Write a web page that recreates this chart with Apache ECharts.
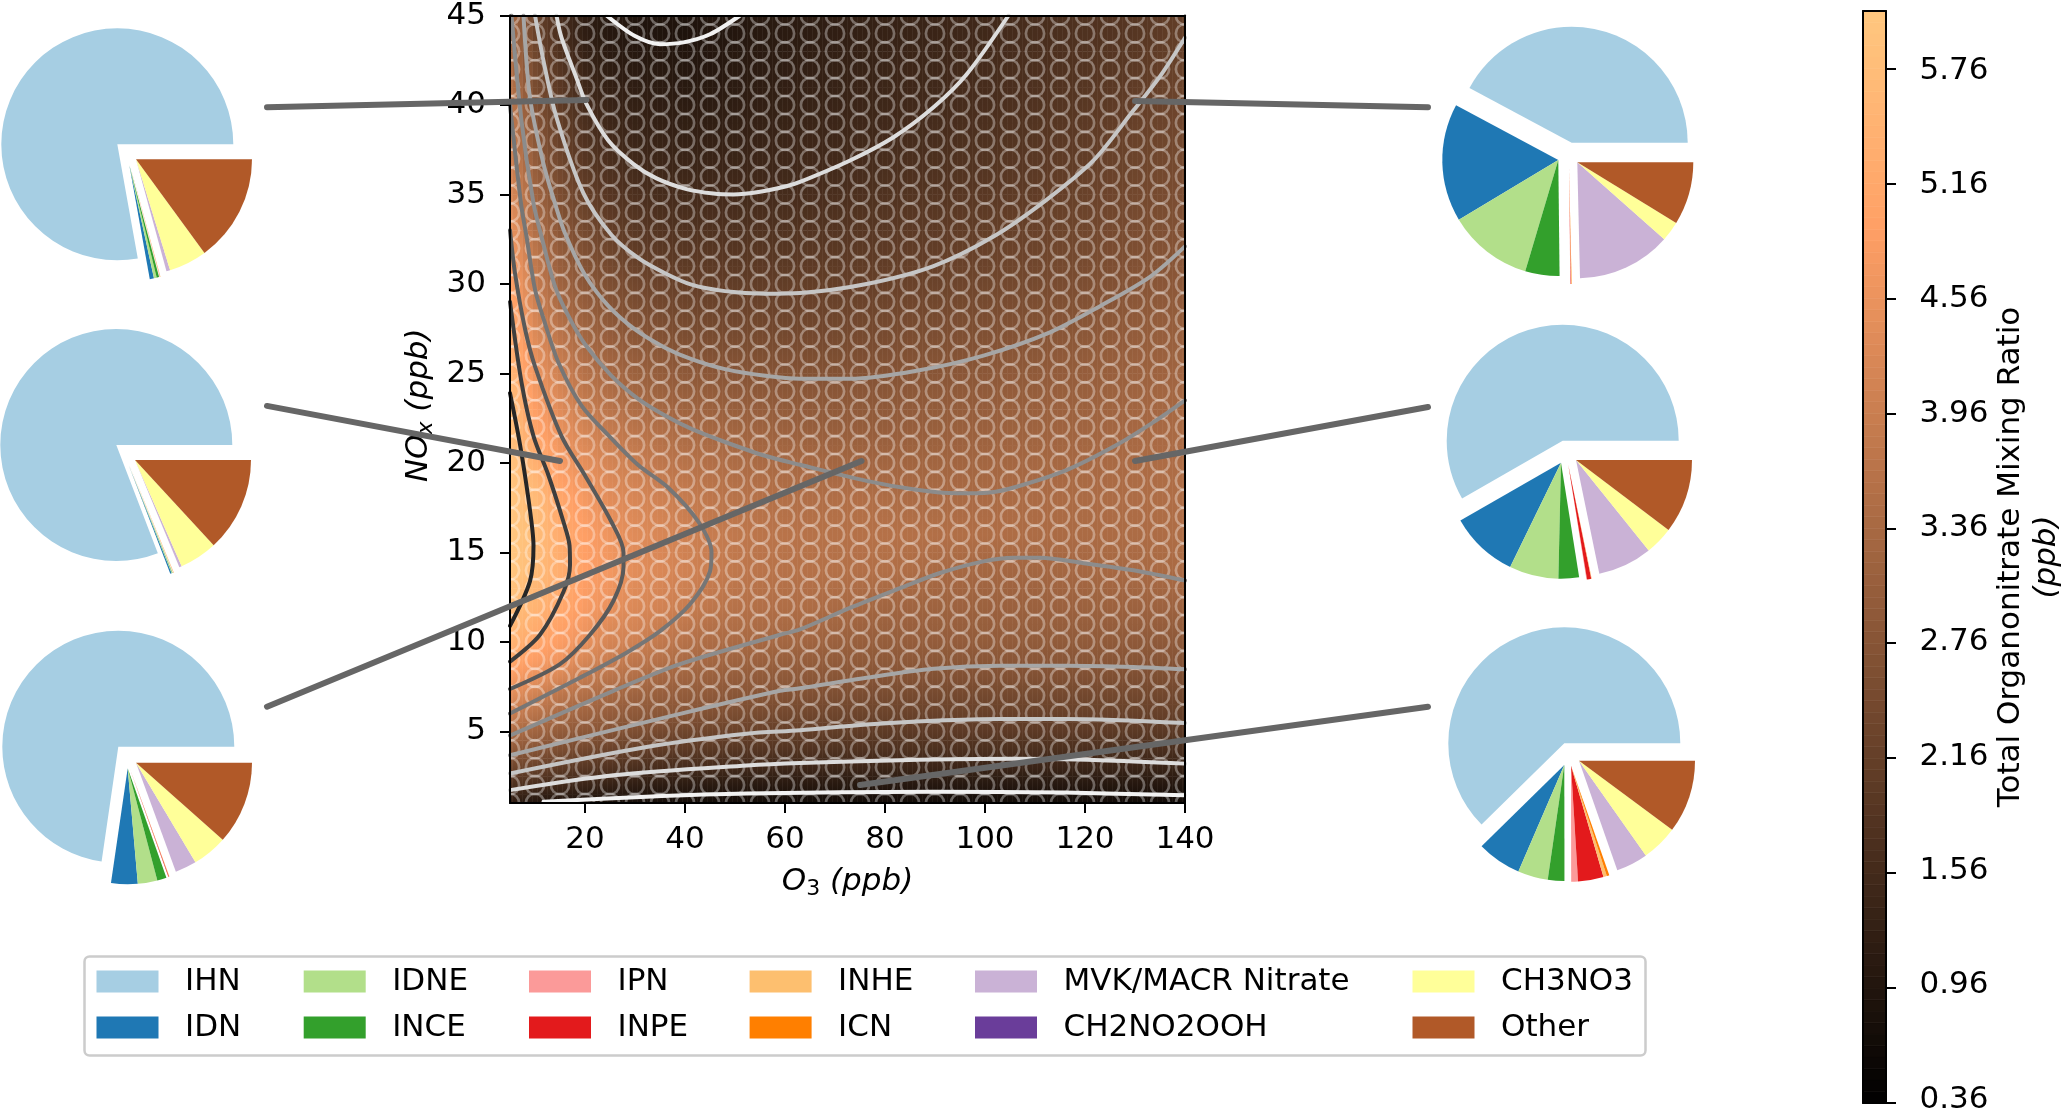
<!DOCTYPE html>
<html>
<head>
<meta charset="utf-8">
<title>Organonitrate mixing ratio</title>
<style>html,body{margin:0;padding:0;background:#fff}#c{width:2066px;height:1115px}</style>
<script src="https://cdn.jsdelivr.net/npm/echarts@6/dist/echarts.min.js"></script>
</head>
<body>
<div id="c"></div>
<script>
// ---------- data ----------
const species = ['IHN','IDN','IDNE','INCE','IPN','INPE','INHE','ICN','MVK/MACR Nitrate','CH2NO2OOH','CH3NO3','Other'];
const speciesColors = ['#a6cee3','#1f78b4','#b2df8a','#33a02c','#fb9a99','#e31a1c','#fdbf6f','#ff7f00','#cab2d6','#6a3d9a','#ffff99','#b15928'];
const pieTopLeft  = [280.1,2.1,1.4,1.2,0.05,0.05,0.2,0.05,1.8,0.05,19.1,53.8];
const pieMidLeft  = [291,0.7,0.3,0.2,0.02,0.02,0.2,0.06,1.2,0.02,19,47.3];
const pieLowLeft  = [261.8,13.3,9.8,4.7,0.1,0.3,0.1,0.1,10.7,0.02,17.6,41.6];
const pieTopRight = [151.9,59.2,42.5,17.2,0.2,0.2,0.1,0.2,47.2,0.02,10,31.5];
const pieMidRight = [209.9,34.2,24.7,10.3,0.3,2.1,0.1,0.1,27.2,0.02,14.1,37.1];
const pieLowRight = [224.5,22.2,15.1,8.3,3.4,12.8,1.7,1.3,15.8,0.02,18.3,36.6];

const xTicks = [20,40,60,80,100,120,140];
const yTicks = [5,10,15,20,25,30,35,40,45];
const barTicks = [0.36,0.96,1.56,2.16,2.76,3.36,3.96,4.56,5.16,5.76];
const barBands = [0.36,0.42,0.48,0.54,0.60,0.66,0.72,0.78,0.84,0.90,0.96,1.02,1.08,1.14,1.20,1.26,1.32,1.38,1.44,1.50,1.56,1.62,1.68,1.74,1.80,1.86,1.92,1.98,2.04,2.10,2.16,2.22,2.28,2.34,2.40,2.46,2.52,2.58,2.64,2.70,2.76,2.82,2.88,2.94,3.00,3.06,3.12,3.18,3.24,3.30,3.36,3.42,3.48,3.54,3.60,3.66,3.72,3.78,3.84,3.90,3.96,4.02,4.08,4.14,4.20,4.26,4.32,4.38,4.44,4.50,4.56,4.62,4.68,4.74,4.80,4.86,4.92,4.98,5.04,5.10,5.16,5.22,5.28,5.34,5.40,5.46,5.52,5.58,5.64,5.70,5.76,5.82,5.88,5.94,6.00,6.06];

const o3Columns = [5,10,15,20,25,30,35,40,45,50,55,60,65,70,75,80,85,90,95,100,105,110,115,120,125,130,135,140];
const noxRows = [1,2,3,4,5,6,7,8,9,10,12,14,16,18,20,22,24,26,28,30,32,34,36,38,40,42,44];
const hatchY = [1,2,3,4,5,6,7,8,9,10,11,12,13,14,15,16,17,18,19,20,21,22,23,24,25,26,27,28,29,30,31,32,33,34,35,36,37,38,39,40,41,42,43,44,45];
// total organonitrate (ppb): one list per O3 column, bottom row first
const ratioByColumn = [
[1.18,1.75,2.37,2.95,3.5,3.96,4.4,4.8,5.2,5.5,5.85,6.03,6.05,6.0,5.95,5.85,5.75,5.5,5.28,5.0,4.75,4.45,4.2,3.96,3.8,3.6,3.42],
[.97,1.62,2.22,2.76,3.22,3.65,4.05,4.5,4.85,5.13,5.5,5.72,5.78,5.72,5.4,5.05,4.75,4.47,4.2,3.92,3.7,3.36,3.1,2.85,2.6,2.45,2.25],
[.9,1.5,2.03,2.57,2.97,3.36,3.7,4.2,4.62,4.85,5.2,5.33,5.27,5.14,4.78,4.5,4.2,3.88,3.55,3.2,2.97,2.7,2.45,2.2,2.05,1.88,1.65],
[.85,1.4,1.92,2.4,2.87,3.2,3.5,3.85,4.2,4.53,4.8,4.93,4.9,4.73,4.45,4.1,3.75,3.45,3.15,2.85,2.6,2.3,2.03,1.8,1.6,1.4,1.2],
[.8,1.3,1.8,2.25,2.72,3.0,3.3,3.65,3.96,4.15,4.52,4.7,4.6,4.38,4.13,3.85,3.5,3.2,2.87,2.6,2.3,2.0,1.78,1.55,1.36,1.18,1.03],
[.75,1.2,1.7,2.15,2.6,2.9,3.17,3.5,3.75,4.05,4.27,4.4,4.35,4.2,3.98,3.65,3.3,3.0,2.68,2.4,2.07,1.85,1.62,1.42,1.28,1.12,.95],
[.72,1.15,1.63,2.05,2.45,2.83,3.05,3.28,3.6,3.82,4.12,4.25,4.22,4.05,3.76,3.5,3.15,2.87,2.55,2.25,1.96,1.72,1.52,1.35,1.2,1.07,.92],
[.7,1.12,1.6,2.0,2.35,2.75,2.97,3.2,3.4,3.6,3.95,4.08,4.05,3.9,3.64,3.37,3.05,2.75,2.45,2.16,1.92,1.68,1.48,1.3,1.17,1.03,.9],
[.68,1.1,1.58,1.95,2.3,2.65,2.9,3.1,3.3,3.45,3.75,3.96,3.92,3.75,3.55,3.3,3.0,2.68,2.38,2.12,1.9,1.66,1.47,1.3,1.15,1.03,.96],
[.68,1.08,1.53,1.9,2.25,2.55,2.8,3.0,3.2,3.4,3.62,3.78,3.8,3.65,3.45,3.22,2.92,2.65,2.37,2.1,1.88,1.66,1.48,1.33,1.2,1.1,1.0],
[.68,1.06,1.5,1.87,2.2,2.48,2.75,2.93,3.13,3.33,3.55,3.68,3.7,3.6,3.4,3.17,2.88,2.62,2.35,2.1,1.9,1.68,1.5,1.37,1.25,1.15,1.07],
[.68,1.05,1.47,1.83,2.15,2.42,2.68,2.9,3.07,3.28,3.5,3.62,3.66,3.55,3.36,3.12,2.85,2.6,2.33,2.12,1.9,1.7,1.52,1.42,1.3,1.2,1.12],
[.68,1.05,1.45,1.8,2.12,2.37,2.63,2.85,3.02,3.22,3.47,3.6,3.62,3.5,3.34,3.05,2.83,2.58,2.33,2.13,1.93,1.73,1.56,1.45,1.35,1.25,1.17],
[.68,1.05,1.44,1.78,2.1,2.33,2.58,2.8,2.97,3.13,3.4,3.57,3.6,3.52,3.28,3.05,2.83,2.58,2.35,2.13,1.95,1.77,1.6,1.48,1.38,1.3,1.22],
[.68,1.04,1.43,1.77,2.06,2.3,2.53,2.77,2.93,3.07,3.33,3.55,3.6,3.52,3.27,3.03,2.82,2.6,2.38,2.16,1.98,1.82,1.65,1.52,1.43,1.35,1.27],
[.68,1.03,1.41,1.75,2.03,2.27,2.5,2.73,2.9,3.03,3.25,3.53,3.6,3.48,3.25,3.03,2.83,2.62,2.42,2.2,2.03,1.87,1.72,1.56,1.47,1.4,1.32],
[.68,1.03,1.4,1.73,2.0,2.25,2.47,2.7,2.88,3.02,3.22,3.47,3.58,3.42,3.25,3.05,2.87,2.68,2.47,2.25,2.07,1.92,1.77,1.62,1.52,1.45,1.37],
[.67,1.03,1.4,1.72,2.0,2.23,2.45,2.67,2.85,3.0,3.2,3.38,3.55,3.4,3.25,3.07,2.9,2.7,2.5,2.27,2.1,1.95,1.8,1.66,1.55,1.47,1.4],
[.67,1.02,1.39,1.71,2.0,2.22,2.43,2.65,2.84,3.0,3.17,3.33,3.53,3.39,3.25,3.1,2.93,2.73,2.55,2.33,2.15,2.0,1.85,1.72,1.62,1.55,1.47],
[.67,1.02,1.39,1.7,2.0,2.2,2.42,2.65,2.83,2.98,3.15,3.3,3.5,3.4,3.28,3.12,2.95,2.76,2.57,2.38,2.2,2.04,1.9,1.77,1.66,1.6,1.5],
[.67,1.02,1.39,1.7,2.0,2.2,2.42,2.64,2.82,2.96,3.13,3.28,3.48,3.42,3.3,3.15,3.0,2.82,2.62,2.42,2.25,2.1,1.95,1.82,1.73,1.65,1.58],
[.67,1.02,1.39,1.7,2.0,2.2,2.42,2.64,2.82,2.96,3.13,3.28,3.45,3.42,3.32,3.18,3.03,2.85,2.67,2.47,2.3,2.16,2.02,1.9,1.8,1.72,1.65],
[.67,1.02,1.39,1.7,2.0,2.2,2.42,2.64,2.82,2.96,3.14,3.3,3.42,3.42,3.33,3.2,3.07,2.92,2.73,2.53,2.37,2.22,2.1,1.97,1.87,1.78,1.7],
[.66,1.02,1.39,1.69,2.0,2.2,2.4,2.63,2.81,2.95,3.15,3.32,3.42,3.42,3.36,3.23,3.1,2.97,2.78,2.6,2.44,2.3,2.18,2.05,1.95,1.85,1.78],
[.66,1.01,1.38,1.68,2.0,2.2,2.4,2.62,2.8,2.93,3.16,3.34,3.43,3.44,3.38,3.27,3.15,3.02,2.85,2.67,2.52,2.38,2.26,2.16,2.03,1.92,1.83],
[.65,1.0,1.37,1.67,1.98,2.2,2.4,2.6,2.78,2.91,3.17,3.36,3.44,3.46,3.42,3.32,3.2,3.08,2.93,2.76,2.6,2.47,2.35,2.25,2.14,2.0,1.9],
[.65,1.0,1.36,1.66,1.97,2.18,2.38,2.58,2.76,2.9,3.17,3.38,3.46,3.48,3.45,3.35,3.25,3.12,2.98,2.82,2.68,2.55,2.44,2.33,2.23,2.14,2.0],
[.64,.99,1.34,1.65,1.96,2.16,2.36,2.56,2.74,2.88,3.18,3.4,3.48,3.5,3.47,3.4,3.3,3.17,3.03,2.88,2.77,2.62,2.52,2.43,2.33,2.25,2.17]
];

// contour lines, as [O3, NOx] pairs
const c096a = [[24.3,45],[30,43.85],[35,43.4],[39.7,43.5],[45,43.95],[51,45]];
const c096b = [[11.7,1.07],[32.3,1.35],[52.3,1.53],[89.7,1.63],[116,1.58],[140,1.43]];
const c156a = [[14.3,45],[15.3,43.76],[18.3,41.5],[20.3,40.05],[24.7,38],[29.7,36.7],[34.3,35.9],[40.3,35.3],[45.7,35.05],[49.7,35],[55,35.15],[60.3,35.46],[63,35.7],[73,36.9],[81.7,38.2],[89.7,39.87],[96.3,41.7],[104.7,45]];
const c156b = [[5,1.72],[25.7,2.55],[52.3,3.1],[63,3.24],[83,3.39],[106,3.47],[123,3.39],[140,3.2]];
const c216a = [[10,45],[11.7,42.46],[14.3,39.3],[19.7,35.06],[25.3,32.74],[30.7,31.44],[36,30.6],[41.3,29.96],[48,29.6],[56,29.46],[63,29.5],[76.3,30],[89.7,31],[101.7,32.65],[112.3,34.7],[121.7,36.9],[129.7,39.7],[135,41.6],[140,43.76]];
const c216b = [[5,2.65],[32.3,4.13],[52.3,4.87],[63,5.06],[76.3,5.39],[89.7,5.6],[103,5.7],[116,5.7],[140,5.47]];
const c276a = [[7.7,45],[9,40.4],[11.7,36.7],[14,34.5],[16,32.83],[20,30.5],[24.7,28.76],[30,27.46],[36,26.44],[41.3,25.8],[48,25.24],[56,24.87],[63,24.7],[73,24.7],[86.3,25.15],[99.7,26],[113,27.3],[123,28.76],[133,30.4],[140,32.1]];
const c276b = [[5,3.67],[39,5.98],[59,7.27],[63,7.41],[76.3,8],[89.7,8.5],[103,8.67],[116.3,8.67],[129.7,8.6],[140,8.47]];
const c336a = [[5.3,45],[7.3,39.1],[9.7,34.5],[11.3,32.65],[14,29.87],[16.7,28.2],[20,26.63],[25.3,24.87],[30.7,23.57],[36,22.65],[41.3,21.9],[48,21.17],[56,20.4],[63,19.9],[76.3,19],[86.3,18.5],[94.3,18.3],[101,18.35],[106.3,18.67],[116.3,19.6],[126.3,21],[133.7,22.28],[140,23.5]];
const c336b = [[5,4.77],[25.7,7.27],[39,8.76],[59,10.4],[63,10.7],[73,11.9],[83,13],[91,13.85],[99.7,14.5],[105.7,14.7],[111,14.7],[119.7,14.4],[129.7,14],[140,13.43]];
const c396 = [[5,40],[7.2,34.5],[8.3,32.65],[10,29.7],[12,27.8],[14.7,25.6],[19.3,23.2],[24.7,21.54],[30.7,19.87],[36.7,18.6],[42.7,16.7],[45.3,15],[45,13.94],[41,12.1],[35,10.6],[28.3,9.4],[19,8],[5,6]];
const c456 = [[5,33],[6,30.6],[8,27.5],[10,25.4],[15.3,21.5],[20,19.3],[25.3,16.7],[27.7,15],[27.7,14.2],[25.7,12.3],[21,10.4],[15,8.76],[5,7.37]];
const c516 = [[5,29],[7.3,24.5],[9.7,21.5],[12.7,19.3],[15.7,16.7],[16.9,15.4],[17,14.3],[15.7,12.8],[11,10.4],[5,8.9]];
const c576 = [[5,23.9],[6.7,21.5],[8,19.3],[9.3,16.7],[9.7,15.4],[9,13.4],[5,10.9]];

// leader lines from each pie to its point on the map
const leaderTopLeft  = [[-43.6,39.65],[20.3,40.06]];
const leaderMidLeft  = [[-43.6,23.06],[15,20]];
const leaderLowLeft  = [[-43.6,6.35],[75.3,20]];
const leaderTopRight = [[188.6,39.65],[130,40]];
const leaderMidRight = [[188.6,23],[130,20]];
const leaderLowRight = [[188.6,6.35],[75,2]];

// ---------- layout and styles ----------
const FONT = 'DejaVu Sans';
const LABEL = 31;
const plot = {left:510, top:11, width:675, height:792};
const wide = {left:265, top:11, width:1165, height:792}; // same scale as the map, extended to the pies
const bar = {left:1863, top:11, width:34, height:1092};
const barText = {left:1863, top:13.6, width:34, height:1092}; // colour bar tick text sits slightly below its ticks
const pieR = 116;
const pieSlots = [
 {v:pieTopLeft,  c:[[117.3,144.3],[129.3,165],[130,165],[136,159.3]]},
 {v:pieMidLeft,  c:[[116.3,445],[128.8,465.5],[129.5,465.5],[135,460]]},
 {v:pieLowLeft,  c:[[118.3,746.7],[127.7,768.3],[129.5,767.5],[136,762.7]]},
 {v:pieTopRight, c:[[1571.7,142.7],[1558.3,160],[1569,168],[1577.3,162.3]]},
 {v:pieMidRight, c:[[1562.7,440.7],[1561,462.7],[1568.3,465],[1576,460]]},
 {v:pieLowRight, c:[[1564.3,743.3],[1564.3,765],[1571,765.7],[1579,760.7]]}
];
const groups = [[0,1],[1,4],[4,8],[8,12]];

function sum(a){return a.reduce((s,x)=>s+x,0);}
function pieSeries(slot){
  return groups.map((g,i)=>{
    const before = sum(slot.v.slice(0,g[0]));
    const after = sum(slot.v.slice(g[1]));
    const blank = {color:'rgba(0,0,0,0)'};
    const data = [{name:'-a',value:before,itemStyle:blank}];
    for(let k=g[0];k<g[1];k++){data.push({name:species[k],value:slot.v[k],itemStyle:{color:speciesColors[k]}});}
    data.push({name:'-b',value:after,itemStyle:blank});
    return {type:'pie',silent:true,center:slot.c[i],radius:pieR,startAngle:0,clockwise:false,
      label:{show:false},labelLine:{show:false},emphasis:{disabled:true},animation:false,z:3,data};
  });
}

// copper colour scale used by the map and its colour bar
function copper(v){
  const t=Math.max(0,Math.min(1,(v-0.36)/5.7));
  return 'rgb('+Math.round(255*Math.min(1,1.25*t))+','+Math.round(255*0.7812*t)+','+Math.round(255*0.4975*t)+')';
}
// shading of the table between its cells, only for painting
function bracket(list,v){
  let i=0; while(i<list.length-2 && v>list[i+1]) i++;
  const f=Math.max(0,Math.min(1,(v-list[i])/(list[i+1]-list[i])));
  return [i,f];
}
function shadeAt(x,y){
  const a=bracket(o3Columns,x), b=bracket(noxRows,y);
  const c0=ratioByColumn[a[0]], c1=ratioByColumn[a[0]+1];
  const v0=c0[b[0]]*(1-b[1])+c0[b[0]+1]*b[1];
  const v1=c1[b[0]]*(1-b[1])+c1[b[0]+1]*b[1];
  return v0*(1-a[1])+v1*a[1];
}
const STRIPS=5;
function renderCell(params,api){
  const x=api.value(0), y=api.value(1), lo=api.value(3), hi=api.value(4);
  const kids=[];
  for(let s=0;s<STRIPS;s++){
    const xa=Math.max(5,x-2.5+s*5/STRIPS), xb=Math.min(140,x-2.5+(s+1)*5/STRIPS);
    if(xb<=xa) continue;
    const xm=(xa+xb)/2;
    const p=api.coord([xa,hi]), q=api.coord([xb,lo]);
    kids.push({type:'rect',shape:{x:p[0],y:p[1],width:q[0]-p[0]+0.4,height:q[1]-p[1]+0.4},
      style:{fill:new echarts.graphic.LinearGradient(0,0,0,1,[
        {offset:0,color:copper(shadeAt(xm,hi))},
        {offset:(hi-y)/(hi-lo),color:copper(shadeAt(xm,y))},
        {offset:1,color:copper(shadeAt(xm,lo))}])}});
  }
  return {type:'group',children:kids};
}
function renderBand(params,api){
  const a=api.coord([0,api.value(4)]), b=api.coord([1,api.value(3)]);
  const col=copper(api.value(2));
  return {type:'rect',shape:{x:a[0],y:a[1],width:b[0]-a[0],height:b[1]-a[1]},style:{fill:col,stroke:col,lineWidth:0.6}};
}

const cellData=[];
ratioByColumn.forEach((col,i)=>col.forEach((v,j)=>{
  const lo=j===0?1:(noxRows[j-1]+noxRows[j])/2;
  const hi=j===noxRows.length-1?45:(noxRows[j]+noxRows[j+1])/2;
  cellData.push([o3Columns[i],noxRows[j],v,lo,hi]);
}));
const bandData=[];
for(let i=0;i<barBands.length-1;i++){bandData.push([0,barBands[i],(barBands[i]+barBands[i+1])/2,barBands[i],barBands[i+1]]);}
const hatchData=[];
o3Columns.forEach(x=>hatchY.forEach(y=>hatchData.push([x,y])));

function contour(data,color){
  return {type:'line',data,xAxisIndex:0,yAxisIndex:0,showSymbol:false,symbol:'none',smooth:0.3,clip:true,silent:true,z:5,
    lineStyle:{color,width:4,cap:'round',join:'round'}};
}
function leader(data){
  return {type:'line',data,xAxisIndex:4,yAxisIndex:4,showSymbol:false,symbol:'none',clip:false,silent:true,z:20,
    lineStyle:{color:'#666666',width:6,cap:'round'}};
}

const series=[
 {type:'custom',renderItem:renderCell,data:cellData,xAxisIndex:0,yAxisIndex:0,silent:true,z:1,encode:{x:0,y:1},dimensions:['x','y','v','lo','hi']},
 {type:'custom',renderItem:renderBand,data:bandData,xAxisIndex:2,yAxisIndex:2,silent:true,z:1,encode:{x:0,y:1},dimensions:['x','y','v','lo','hi']},
 {type:'scatter',data:hatchData,xAxisIndex:0,yAxisIndex:0,silent:true,clip:true,z:2,symbol:'circle',symbolSize:18.4,
  itemStyle:{color:'rgba(0,0,0,0)',borderColor:'rgba(255,255,255,0.42)',borderWidth:2.6},emphasis:{disabled:true}},
 contour(c096a,'#f2f2f2'),contour(c096b,'#f2f2f2'),
 contour(c156a,'#dddddd'),contour(c156b,'#dddddd'),
 contour(c216a,'#c6c6c6'),contour(c216b,'#c6c6c6'),
 contour(c276a,'#a6a6a6'),contour(c276b,'#a6a6a6'),
 contour(c336a,'#8c8c8c'),contour(c336b,'#8c8c8c'),
 contour(c396,'#767676'),contour(c456,'#5a5a5a'),contour(c516,'#3e3e3e'),contour(c576,'#262626'),
 leader(leaderTopLeft),leader(leaderMidLeft),leader(leaderLowLeft),
 leader(leaderTopRight),leader(leaderMidRight),leader(leaderLowRight)
];
pieSlots.forEach(s=>series.push(...pieSeries(s)));

const spine={show:true,onZero:false,lineStyle:{color:'#000',width:2}};
const hidden={axisTick:{show:false},axisLabel:{show:false},splitLine:{show:false}};
const labelStyle={color:'#000',fontFamily:FONT,fontSize:LABEL};
const italic={fontFamily:FONT,fontSize:LABEL,fontStyle:'italic',color:'#000'};
const subItalic={fontFamily:FONT,fontSize:22,fontStyle:'italic',color:'#000',verticalAlign:'bottom',padding:[14,0,0,0]};
const subRoman={fontFamily:FONT,fontSize:22,color:'#000',verticalAlign:'bottom',padding:[14,0,0,0]};

const legendCols=[
 {left:96.5,names:[species[0],species[1]]},
 {left:303.7,names:[species[2],species[3]]},
 {left:529,names:[species[4],species[5]]},
 {left:749.6,names:[species[6],species[7]]},
 {left:975,names:[species[8],species[9]]},
 {left:1412.5,names:[species[10],species[11]]}
];

const option={
 animation:false,
 backgroundColor:'#fff',
 textStyle:{fontFamily:FONT},
 grid:[
  {left:plot.left,top:plot.top,width:plot.width,height:plot.height,containLabel:false},
  {left:bar.left,top:bar.top,width:bar.width,height:bar.height,containLabel:false},
  {left:wide.left,top:wide.top,width:wide.width,height:wide.height,containLabel:false},
  {left:barText.left,top:barText.top,width:barText.width,height:barText.height,containLabel:false}
 ],
 xAxis:[
  {type:'value',gridIndex:0,min:5,max:140,position:'bottom',z:8,axisLine:spine,splitLine:{show:false},
   axisTick:{show:true,length:10,lineStyle:{color:'#000',width:2},customValues:xTicks},
   axisLabel:{...labelStyle,margin:21,customValues:xTicks},
   name:'{o|O}{s|3}{o| (ppb)}',nameLocation:'middle',nameGap:61,nameTextStyle:{rich:{o:italic,s:subRoman}}},
  {type:'value',gridIndex:0,min:5,max:140,position:'top',z:8,axisLine:spine,...hidden},
  {type:'value',gridIndex:1,min:0,max:1,position:'bottom',z:8,axisLine:spine,...hidden},
  {type:'value',gridIndex:1,min:0,max:1,position:'top',z:8,axisLine:spine,...hidden},
  {type:'value',gridIndex:2,min:-44,max:189,show:false},
  {type:'value',gridIndex:3,min:0,max:1,show:false}
 ],
 yAxis:[
  {type:'value',gridIndex:0,min:1,max:45,position:'left',z:8,axisLine:spine,splitLine:{show:false},
   axisTick:{show:true,length:10,lineStyle:{color:'#000',width:2},customValues:yTicks},
   axisLabel:{...labelStyle,margin:24,customValues:yTicks,showMinLabel:true,showMaxLabel:true},
   name:'{o|NO}{s|x}{o| (ppb)}',nameLocation:'middle',nameGap:73,nameRotate:90,nameTextStyle:{padding:[0,0,0,8],rich:{o:italic,s:subItalic}}},
  {type:'value',gridIndex:0,min:1,max:45,position:'right',z:8,axisLine:spine,...hidden},
  {type:'value',gridIndex:1,min:0.36,max:6.06,position:'right',z:8,axisLine:spine,splitLine:{show:false},
   axisTick:{show:true,length:10,lineStyle:{color:'#000',width:2},customValues:barTicks},
   axisLabel:{show:false},
   name:'{a|Total Organonitrate Mixing Ratio}\n{b|(ppb)}',nameLocation:'middle',nameGap:107,nameRotate:90,
   nameTextStyle:{lineHeight:36,rich:{a:{fontFamily:FONT,fontSize:LABEL,color:'#000',lineHeight:36},b:{...italic,lineHeight:36}}}},
  {type:'value',gridIndex:1,min:0.36,max:6.06,position:'left',z:8,axisLine:spine,...hidden},
  {type:'value',gridIndex:2,min:1,max:45,show:false},
  {type:'value',gridIndex:3,min:0.36,max:6.06,position:'right',z:8,axisLine:{show:false},axisTick:{show:false},splitLine:{show:false},
   axisLabel:{...labelStyle,margin:22.5,customValues:barTicks,formatter:v=>v.toFixed(2),showMinLabel:true}}
 ],
 legend:legendCols.map(c=>({
  data:c.names,left:c.left,top:966,orient:'vertical',padding:0,itemWidth:62,itemHeight:22,itemGap:15,
  icon:'rect',selectedMode:false,
  textStyle:{color:'#000',fontFamily:FONT,fontSize:LABEL,padding:[0,0,0,21.5]}
 })),
 graphic:[{type:'rect',z:-1,silent:true,shape:{x:84.5,y:956.5,width:1561,height:99,r:5},
  style:{fill:'#fff',stroke:'#cccccc',lineWidth:2.5}}],
 series
};
const chart=echarts.init(document.getElementById('c'),null,{renderer:'canvas',width:2066,height:1115});
chart.setOption(option);
</script>
</body>
</html>
